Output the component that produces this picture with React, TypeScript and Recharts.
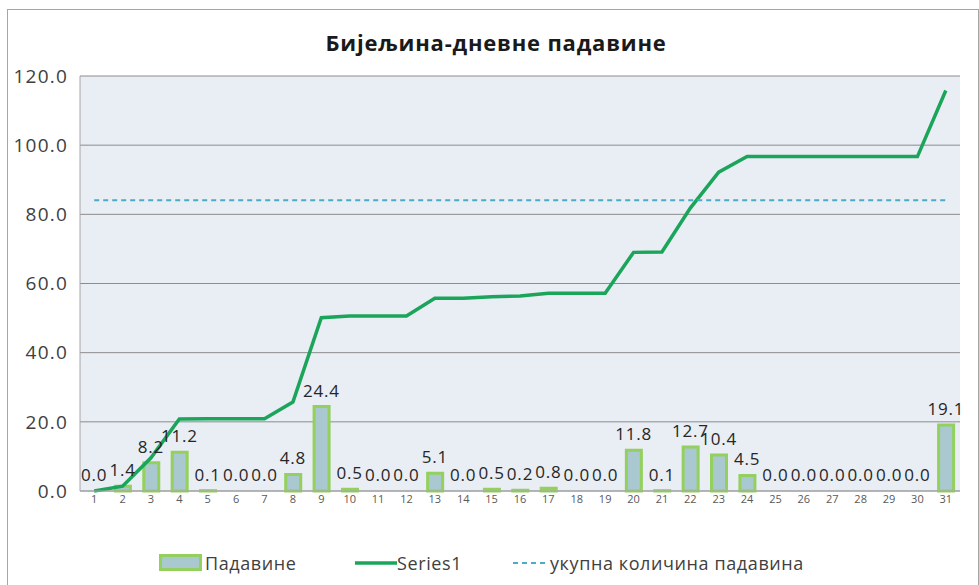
import { ComposedChart, Bar, Line, XAxis, YAxis, CartesianGrid, Legend, LabelList } from 'recharts';

const days = [
  1, 2, 3, 4, 5, 6, 7, 8, 9, 10, 11, 12, 13, 14, 15, 16,
  17, 18, 19, 20, 21, 22, 23, 24, 25, 26, 27, 28, 29, 30, 31,
];

// daily precipitation (bars)
const padavine = [
  0.0, 1.4, 8.2, 11.2, 0.1, 0.0, 0.0, 4.8, 24.4, 0.5, 0.0, 0.0, 5.1, 0.0, 0.5, 0.2,
  0.8, 0.0, 0.0, 11.8, 0.1, 12.7, 10.4, 4.5, 0.0, 0.0, 0.0, 0.0, 0.0, 0.0, 19.1,
];

// running total (green line)
const series1 = [
  0.0, 1.4, 9.6, 20.8, 20.9, 20.9, 20.9, 25.7, 50.1, 50.6, 50.6, 50.6, 55.7, 55.7, 56.2, 56.4,
  57.2, 57.2, 57.2, 69.0, 69.1, 81.8, 92.2, 96.7, 96.7, 96.7, 96.7, 96.7, 96.7, 96.7, 115.8,
];

// dashed reference line
const ukupno = [
  84.1, 84.1, 84.1, 84.1, 84.1, 84.1, 84.1, 84.1, 84.1, 84.1, 84.1, 84.1, 84.1, 84.1, 84.1, 84.1,
  84.1, 84.1, 84.1, 84.1, 84.1, 84.1, 84.1, 84.1, 84.1, 84.1, 84.1, 84.1, 84.1, 84.1, 84.1,
];

const yTicks = [0, 20, 40, 60, 80, 100, 120];

const data = days.map((d, i) => ({
  day: d,
  padavine: padavine[i],
  series1: series1[i],
  ukupno: ukupno[i],
}));

const FONT = '"Open Sans", "DejaVu Sans", sans-serif';
const BAR_FILL = '#a9c8cf';
const BAR_STROKE = '#93d05e';
const LINE_COLOR = '#1aa55b';
const DASH_COLOR = '#4bacc6';

function ChartLegend() {
  const text: React.CSSProperties = {
    position: 'absolute',
    top: 3,
    fontSize: 18,
    lineHeight: '24px',
    color: '#404040',
    fontFamily: FONT,
    letterSpacing: 0.6,
    whiteSpace: 'nowrap',
  };
  return (
    <div style={{ position: 'relative', width: 970, height: 30 }}>
      <div
        style={{
          position: 'absolute', left: 151, top: 6, width: 37, height: 11,
          background: BAR_FILL, border: `3px solid ${BAR_STROKE}`,
        }}
      />
      <span style={{ ...text, left: 197 }}>Падавине</span>
      <svg style={{ position: 'absolute', left: 347, top: 0 }} width={42} height={30}>
        <line x1={0} y1={15} x2={42} y2={15} stroke={LINE_COLOR} strokeWidth={3.5} />
      </svg>
      <span style={{ ...text, left: 389 }}>Series1</span>
      <svg style={{ position: 'absolute', left: 505, top: 0 }} width={36} height={30}>
        <line x1={0} y1={15} x2={36} y2={15} stroke={DASH_COLOR} strokeWidth={2} strokeDasharray="5 4" />
      </svg>
      <span style={{ ...text, left: 542 }}>укупна количина падавина</span>
    </div>
  );
}

export default function App() {
  return (
    <div
      style={{
        position: 'absolute', left: 7, top: 9, width: 972, height: 590,
        boxSizing: 'border-box', border: '1px solid #a6a6a6', background: '#fff',
      }}
    >
      <div
        style={{
          position: 'absolute', left: 0, top: 17, width: 976, textAlign: 'center',
          fontFamily: FONT, fontWeight: 700, fontSize: 22, lineHeight: '30px',
          color: '#1a1a1a', letterSpacing: 0.8,
        }}
      >
        Бијељина-дневне падавине
      </div>
      <ComposedChart
        width={970}
        height={578}
        data={data}
        margin={{ top: 66, right: 18, bottom: 10, left: 10 }}
      >
        <CartesianGrid vertical={false} stroke="#8c8c8c" fill="#e9edf4" />
        <XAxis
          dataKey="day"
          height={57}
          tickLine={false}
          tickSize={0}
          tickMargin={4}
          axisLine={{ stroke: '#a6a6a6' }}
          interval={0}
          tick={{ fontSize: 11, fill: '#595959', fontFamily: FONT }}
        />
        <YAxis
          width={62}
          domain={[0, 120]}
          ticks={yTicks}
          tickFormatter={(v: number) => v.toFixed(1)}
          tickLine={false}
          tickMargin={6}
          axisLine={{ stroke: '#a6a6a6' }}
          tick={{ fontSize: 19, fill: '#404040', fontFamily: FONT, letterSpacing: 1.2 }}
        />
        <Legend verticalAlign="bottom" height={30} wrapperStyle={{ left: 0, width: 970 }} content={() => <ChartLegend />} />
        <Bar
          dataKey="padavine"
          name="Падавине"
          barSize={15}
          fill={BAR_FILL}
          stroke={BAR_STROKE}
          strokeWidth={3}
          isAnimationActive={false}
        />
        <Line
          dataKey="series1"
          name="Series1"
          type="linear"
          stroke={LINE_COLOR}
          strokeWidth={3.5}
          dot={false}
          isAnimationActive={false}
        />
        <Line
          dataKey="ukupno"
          name="укупна количина падавина"
          type="linear"
          stroke={DASH_COLOR}
          strokeWidth={2}
          strokeDasharray="5 4"
          dot={false}
          isAnimationActive={false}
        />
        {/* invisible carrier for the bar value labels, so zeros get labels too */}
        <Line
          dataKey="padavine"
          stroke="none"
          dot={false}
          activeDot={false}
          legendType="none"
          isAnimationActive={false}
        >
          <LabelList
            dataKey="padavine"
            position="top"
            offset={10}
            formatter={(v: number) => Number(v).toFixed(1)}
            style={{ fontSize: 17, fill: '#262626', fontFamily: FONT, letterSpacing: 0.8 }}
          />
        </Line>
      </ComposedChart>
    </div>
  );
}
